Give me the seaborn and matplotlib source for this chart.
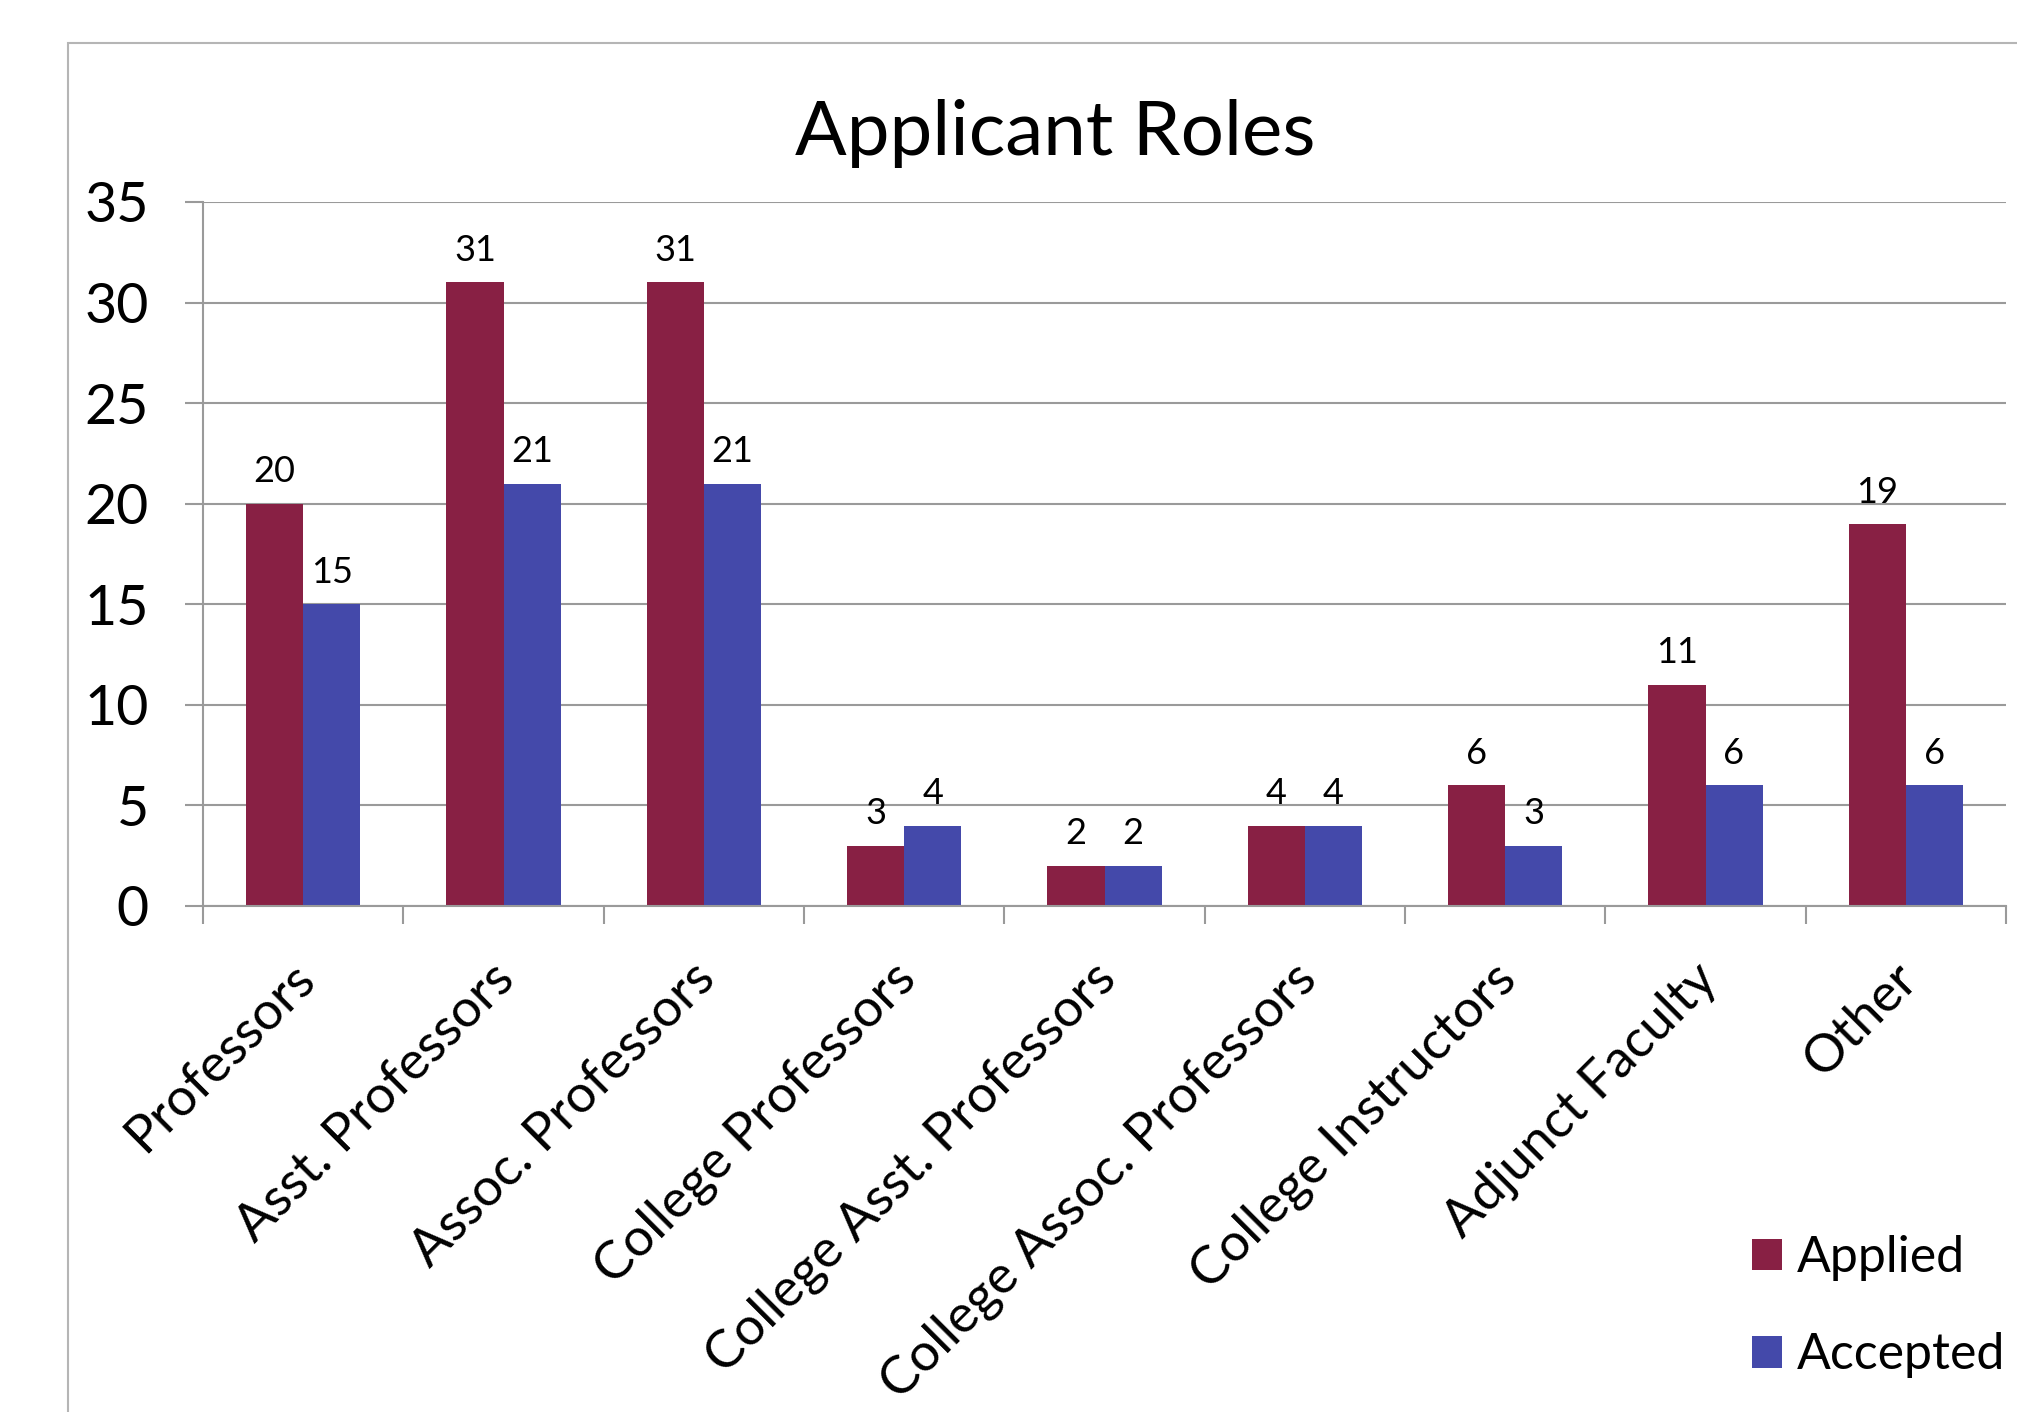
import matplotlib
matplotlib.use("Agg")
import matplotlib.pyplot as plt
import matplotlib.transforms as mtransforms
import seaborn as sns
import pandas as pd
from matplotlib.patches import Patch, Rectangle

categories = ["Professors", "Asst. Professors", "Assoc. Professors", "College Professors",
              "College Asst. Professors", "College Assoc. Professors", "College Instructors",
              "Adjunct Faculty", "Other"]
applied = [20, 31, 31, 3, 2, 4, 6, 11, 19]
accepted = [15, 21, 21, 4, 2, 4, 3, 6, 6]
series = ["Applied", "Accepted"]
colors = ["#882044", "#4449AA"]
yticks = [0, 5, 10, 15, 20, 25, 30, 35]

df = pd.DataFrame({
    "Role": categories * 2,
    "Value": applied + accepted,
    "Series": ["Applied"] * len(categories) + ["Accepted"] * len(categories),
})

sns.set_style("white")
plt.rcParams["font.family"] = ["Lato", "DejaVu Sans"]
plt.rcParams["text.color"] = "black"
plt.rcParams["xtick.labelcolor"] = "black"
plt.rcParams["ytick.labelcolor"] = "black"

W, H = 2017, 1412
fig = plt.figure(figsize=(W / 100, H / 100), dpi=100)
ax = fig.add_axes([203 / W, (H - 906) / H, (2006 - 203) / W, (906 - 202) / H])

sns.barplot(data=df, x="Role", y="Value", hue="Series", order=categories,
            hue_order=series, palette=colors, width=0.57, saturation=1,
            legend=False, ax=ax, edgecolor="none")

grid_c = "#9a9a9a"
ax.set_ylim(0, 35)
ax.set_xlim(-0.5, len(categories) - 0.5)
ax.set_yticks(yticks)
ax.set_yticklabels([str(v) for v in yticks], fontsize=40, color="black")
ax.yaxis.grid(True, color=grid_c, linewidth=1.5)
ax.set_axisbelow(True)
ax.tick_params(axis="y", left=True, length=13, width=1.5, color=grid_c, pad=26)

ax.set_xticks(range(len(categories)))
ax.set_xticklabels(categories, rotation=45, ha="right", rotation_mode="anchor",
                   fontsize=38, color="black")
ax.tick_params(axis="x", which="major", length=0, pad=35)
offset = mtransforms.ScaledTranslation(-0.13, 0, fig.dpi_scale_trans)
for lbl in ax.get_xticklabels():
    lbl.set_transform(lbl.get_transform() + offset)
ax.set_xticks([i - 0.5 for i in range(len(categories) + 1)], minor=True)
ax.tick_params(axis="x", which="minor", bottom=True, length=13, width=1.5, color=grid_c)

for side in ["top", "right"]:
    ax.spines[side].set_visible(False)
for side in ["left", "bottom"]:
    ax.spines[side].set_color(grid_c)
    ax.spines[side].set_linewidth(1.5)

ax.set_xlabel("")
ax.set_ylabel("")

for cont in ax.containers:
    ax.bar_label(cont, padding=11, fontsize=26, color="black")

fig.text(1055 / W, 1 - 133 / H, "Applicant Roles", fontsize=55, ha="center", va="center",
         color="black")

handles = [Patch(facecolor=c, edgecolor="none") for c in colors]
fig.legend(handles, series, loc="upper left",
           bbox_to_anchor=(1752 / W, 1 - 1235 / H), frameon=False, fontsize=36,
           handlelength=0.6, handleheight=0.6, handletextpad=0.3,
           labelspacing=1.03, borderpad=0, borderaxespad=0)

fig.patches.append(Rectangle((68 / W, -0.2), 1.5, 1.2 - 43 / H,
                             transform=fig.transFigure, fill=False,
                             edgecolor="#b5b5b5", linewidth=1.5, clip_on=False))

fig.savefig("out.png", dpi=100)
